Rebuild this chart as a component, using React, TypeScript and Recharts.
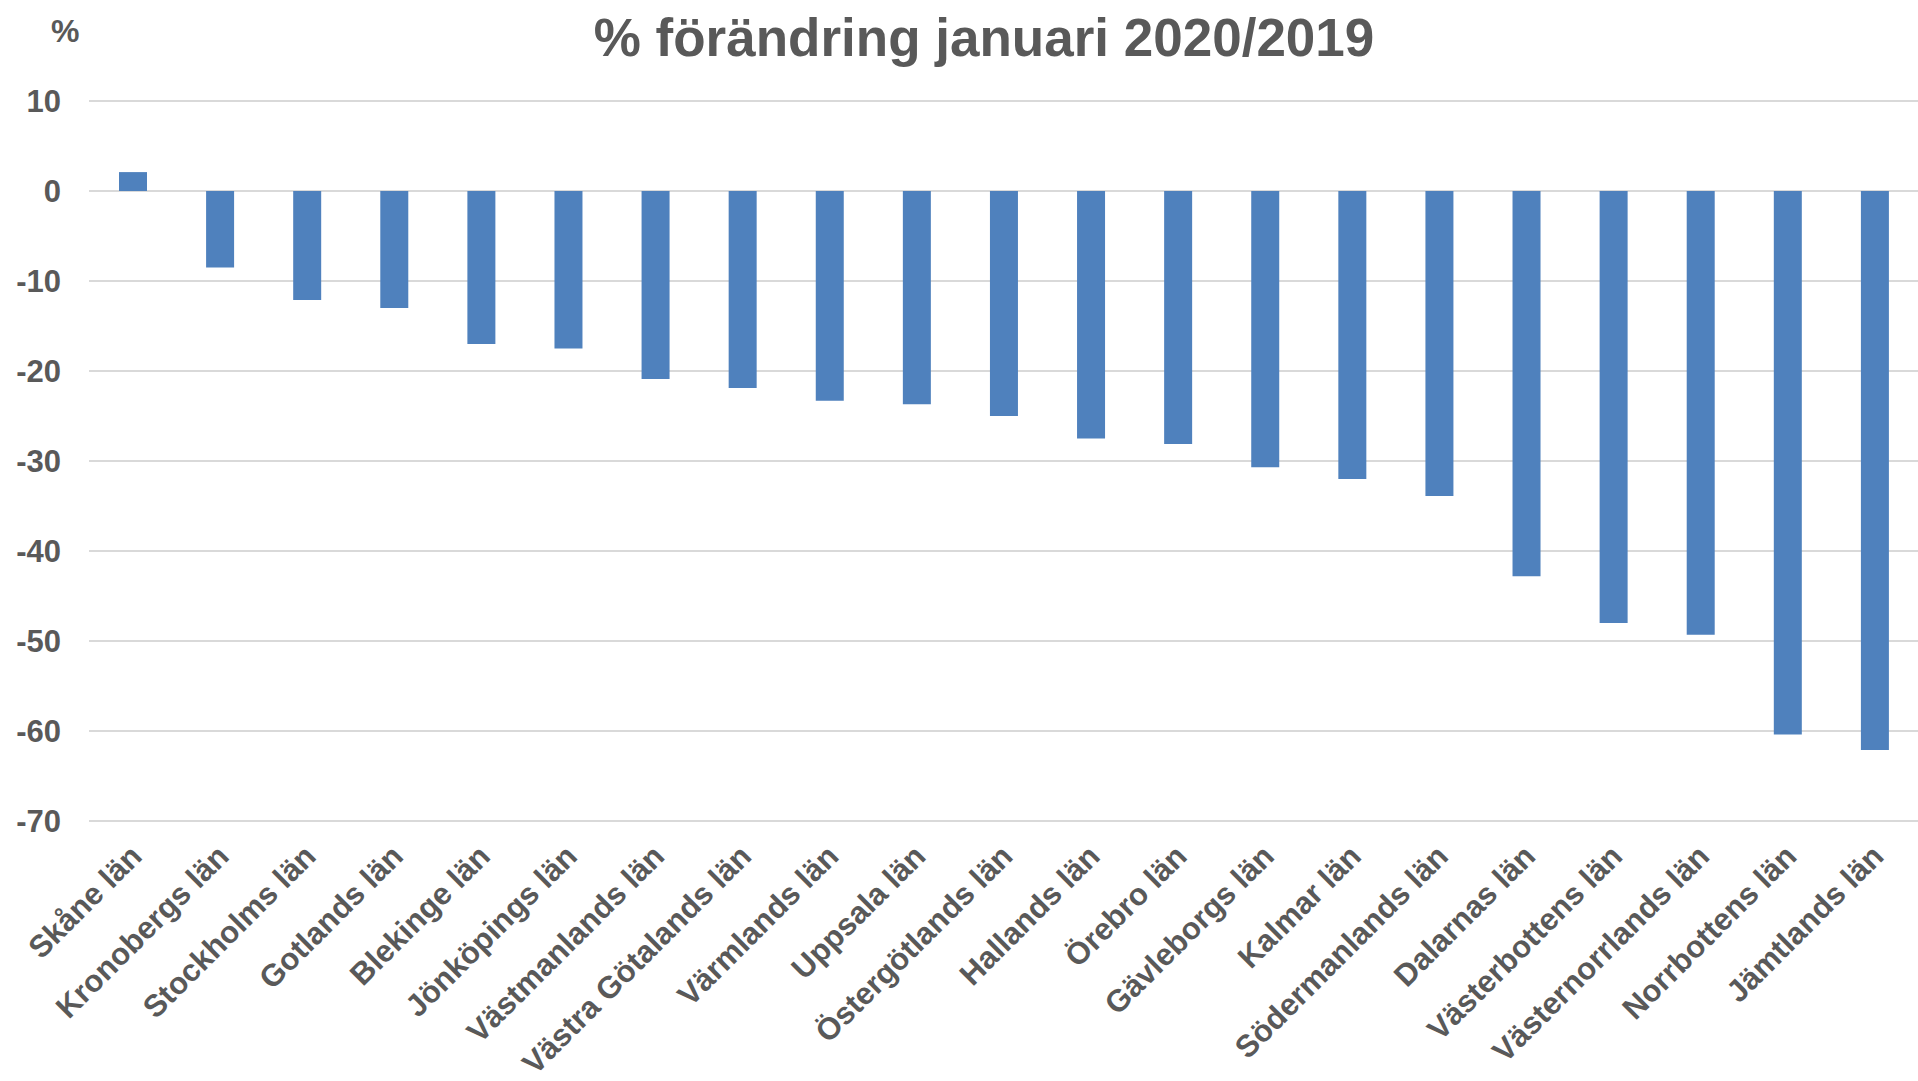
import React from "react";
import { BarChart, Bar, XAxis, YAxis, CartesianGrid } from "recharts";

const categories = [
  "Skåne län",
  "Kronobergs län",
  "Stockholms län",
  "Gotlands län",
  "Blekinge län",
  "Jönköpings län",
  "Västmanlands län",
  "Västra Götalands län",
  "Värmlands län",
  "Uppsala län",
  "Östergötlands län",
  "Hallands län",
  "Örebro län",
  "Gävleborgs län",
  "Kalmar län",
  "Södermanlands län",
  "Dalarnas län",
  "Västerbottens län",
  "Västernorrlands län",
  "Norrbottens län",
  "Jämtlands län",
];

const values = [
  2.1, -8.5, -12.1, -13.0, -17.0, -17.5, -20.9, -21.9, -23.3, -23.7, -25.0,
  -27.5, -28.1, -30.7, -32.0, -33.9, -42.8, -48.0, -49.3, -60.4, -62.1,
];

const yTicks = [-70, -60, -50, -40, -30, -20, -10, 0, 10];

const titleText = "% förändring januari 2020/2019";
const unitText = "%";

const data = categories.map((name, i) => ({ name, value: values[i] }));

const FONT = "'Liberation Sans', Arial, sans-serif";
const TEXT_COLOR = "#595959";

const XTick = (props: any) => {
  const { x, y, payload } = props;
  const ax = x + 11;
  const ay = y + 37;
  return (
    <text
      x={ax}
      y={ay}
      transform={`rotate(-45, ${ax}, ${ay})`}
      textAnchor="end"
      fontFamily={FONT}
      fontWeight="bold"
      fontSize={31}
      fill={TEXT_COLOR}
    >
      {payload.value}
    </text>
  );
};

export default function App() {
  return (
    <div style={{ position: "absolute", left: 0, top: 0, width: 1918, height: 1081, background: "#fff" }}>
      <BarChart
        width={1918}
        height={1081}
        data={data}
        margin={{ top: 101, right: 0, left: 0, bottom: 0 }}
      >
        <CartesianGrid vertical={false} stroke="#D9D9D9" strokeWidth={2} />
        <XAxis
          dataKey="name"
          height={260}
          axisLine={false}
          tickLine={false}
          tickSize={0}
          tickMargin={0}
          interval={0}
          tick={<XTick />}
        />
        <YAxis
          width={89}
          domain={[-70, 10]}
          ticks={yTicks}
          axisLine={false}
          tickLine={false}
          tickSize={0}
          tickMargin={28}
          interval={0}
          tick={{ fontFamily: FONT, fontWeight: "bold", fontSize: 31, fill: TEXT_COLOR }}
        />
        <Bar dataKey="value" fill="#4F81BD" barSize={28} isAnimationActive={false} />
        <text
          x={984}
          y={56}
          textAnchor="middle"
          fontFamily={FONT}
          fontWeight="bold"
          fontSize={53}
          fill={TEXT_COLOR}
        >
          {titleText}
        </text>
        <text
          x={51}
          y={42}
          textAnchor="start"
          fontFamily={FONT}
          fontWeight="bold"
          fontSize={32}
          fill={TEXT_COLOR}
        >
          {unitText}
        </text>
      </BarChart>
    </div>
  );
}
